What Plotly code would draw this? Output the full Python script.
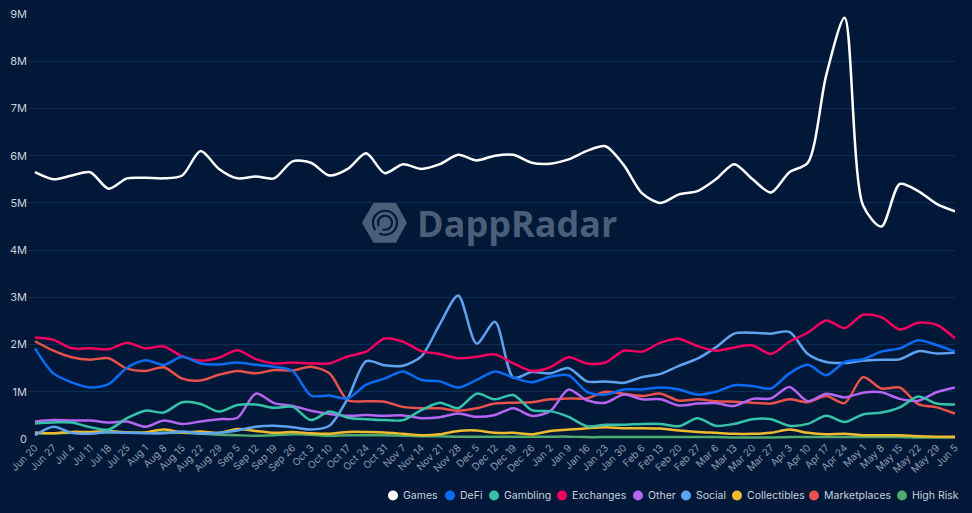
# DappRadar weekly unique wallets by category
import plotly.graph_objects as go

dates = ["Jun 20", "Jun 27", "Jul 4", "Jul 11", "Jul 18", "Jul 25", "Aug 1", "Aug 8", "Aug 15", "Aug 22", "Aug 29",
         "Sep 5", "Sep 12", "Sep 19", "Sep 26", "Oct 3", "Oct 10", "Oct 17", "Oct 24", "Oct 31", "Nov 7", "Nov 14",
         "Nov 21", "Nov 28", "Dec 5", "Dec 12", "Dec 19", "Dec 26", "Jan 2", "Jan 9", "Jan 16", "Jan 23", "Jan 30",
         "Feb 6", "Feb 13", "Feb 20", "Feb 27", "Mar 6", "Mar 13", "Mar 20", "Mar 27", "Apr 3", "Apr 10", "Apr 17",
         "Apr 24", "May 1", "May 8", "May 15", "May 22", "May 29", "Jun 5"]

# values in millions
games = [5.65, 5.5, 5.58, 5.65, 5.3, 5.52, 5.53, 5.52, 5.58, 6.1, 5.72, 5.52, 5.56, 5.52, 5.88, 5.85, 5.58, 5.72,
         6.05, 5.63, 5.82, 5.72, 5.82, 6.02, 5.9, 6.0, 6.02, 5.85, 5.83, 5.92, 6.1, 6.2, 5.8, 5.2, 5.0, 5.18, 5.25,
         5.5, 5.82, 5.5, 5.22, 5.65, 5.85, 7.7, 8.92, 4.95, 4.5, 5.4, 5.25, 4.98, 4.82]
defi = [1.92, 1.39, 1.2, 1.09, 1.16, 1.51, 1.67, 1.57, 1.74, 1.6, 1.58, 1.62, 1.57, 1.53, 1.44, 0.92, 0.92, 0.86,
        1.15, 1.28, 1.43, 1.25, 1.22, 1.09, 1.25, 1.43, 1.3, 1.2, 1.32, 1.35, 1.0, 0.94, 1.05, 1.05, 1.09, 1.05,
        0.94, 1.0, 1.14, 1.12, 1.07, 1.39, 1.57, 1.35, 1.63, 1.69, 1.85, 1.92, 2.09, 1.99, 1.85]
gambling = [0.33, 0.35, 0.35, 0.25, 0.2, 0.44, 0.6, 0.56, 0.78, 0.74, 0.58, 0.72, 0.73, 0.66, 0.68, 0.4, 0.58, 0.45,
            0.42, 0.4, 0.4, 0.61, 0.77, 0.65, 0.96, 0.84, 0.93, 0.61, 0.59, 0.47, 0.27, 0.3, 0.3, 0.32, 0.32, 0.27,
            0.44, 0.28, 0.32, 0.42, 0.42, 0.28, 0.32, 0.49, 0.36, 0.52, 0.56, 0.67, 0.9, 0.75, 0.73]
exchanges = [2.15, 2.1, 1.92, 1.92, 1.9, 2.04, 1.92, 1.96, 1.75, 1.66, 1.72, 1.88, 1.69, 1.6, 1.62, 1.6, 1.6, 1.75,
             1.85, 2.13, 2.06, 1.86, 1.8, 1.71, 1.74, 1.79, 1.6, 1.44, 1.52, 1.73, 1.6, 1.62, 1.87, 1.85, 2.04, 2.12,
             1.97, 1.87, 1.94, 1.98, 1.8, 2.06, 2.25, 2.51, 2.35, 2.63, 2.58, 2.32, 2.46, 2.42, 2.13]
other = [0.37, 0.4, 0.39, 0.39, 0.35, 0.37, 0.26, 0.39, 0.32, 0.37, 0.42, 0.45, 0.96, 0.76, 0.7, 0.6, 0.53, 0.49,
         0.51, 0.49, 0.5, 0.44, 0.46, 0.54, 0.47, 0.51, 0.65, 0.49, 0.59, 1.05, 0.82, 0.77, 0.94, 0.84, 0.84, 0.71,
         0.75, 0.76, 0.7, 0.85, 0.86, 1.1, 0.8, 0.96, 0.88, 0.98, 0.99, 0.85, 0.81, 0.99, 1.09]
social = [0.08, 0.26, 0.13, 0.11, 0.15, 0.13, 0.12, 0.12, 0.16, 0.12, 0.13, 0.18, 0.26, 0.28, 0.25, 0.2, 0.28, 0.86,
          1.65, 1.56, 1.55, 1.75, 2.43, 3.04, 2.02, 2.48, 1.3, 1.42, 1.39, 1.5, 1.22, 1.22, 1.19, 1.31, 1.38, 1.55,
          1.7, 1.94, 2.23, 2.25, 2.23, 2.27, 1.8, 1.63, 1.61, 1.66, 1.68, 1.69, 1.86, 1.81, 1.83]
collectibles = [0.14, 0.12, 0.15, 0.15, 0.17, 0.14, 0.14, 0.2, 0.14, 0.16, 0.13, 0.21, 0.17, 0.13, 0.15, 0.12, 0.11,
                0.15, 0.15, 0.14, 0.11, 0.08, 0.1, 0.17, 0.18, 0.13, 0.13, 0.1, 0.17, 0.2, 0.23, 0.25, 0.23, 0.23,
                0.22, 0.18, 0.15, 0.13, 0.11, 0.11, 0.13, 0.2, 0.13, 0.1, 0.11, 0.08, 0.08, 0.08, 0.06, 0.05, 0.05]
marketplaces = [2.07, 1.87, 1.73, 1.68, 1.71, 1.49, 1.44, 1.52, 1.28, 1.24, 1.36, 1.44, 1.39, 1.46, 1.45, 1.53, 1.39,
                0.82, 0.8, 0.79, 0.68, 0.65, 0.65, 0.6, 0.65, 0.75, 0.77, 0.78, 0.84, 0.86, 0.86, 1.0, 0.96, 0.91,
                0.96, 0.81, 0.84, 0.8, 0.79, 0.77, 0.75, 0.84, 0.78, 0.91, 0.76, 1.31, 1.07, 1.09, 0.74, 0.67, 0.54]
high_risk = [0.12, 0.12, 0.13, 0.13, 0.14, 0.14, 0.13, 0.14, 0.13, 0.11, 0.09, 0.08, 0.07, 0.08, 0.1, 0.09, 0.07,
             0.08, 0.08, 0.08, 0.07, 0.06, 0.06, 0.05, 0.05, 0.05, 0.05, 0.05, 0.05, 0.05, 0.04, 0.04, 0.04, 0.04,
             0.04, 0.04, 0.04, 0.04, 0.03, 0.03, 0.03, 0.04, 0.04, 0.04, 0.04, 0.04, 0.04, 0.04, 0.03, 0.03, 0.03]

names = ["Games", "DeFi", "Gambling", "Exchanges", "Other", "Social", "Collectibles", "Marketplaces", "High Risk"]
series = [games, defi, gambling, exchanges, other, social, collectibles, marketplaces, high_risk]
colors = ["#ffffff", "#0a6cf5", "#35c2a8", "#f5015f", "#b565f0", "#5fa3f0", "#efbb2e", "#e8524a", "#4faa6e"]
# pixel x of each legend dot, plotly's own legend can't get the dot this close to its label
legend_dots = [393, 450, 494, 562, 638, 686, 737, 814, 902]

y_ticks = [0, 1, 2, 3, 4, 5, 6, 7, 8, 9]
y_labels = ["0", "1M", "2M", "3M", "4M", "5M", "6M", "7M", "8M", "9M"]

BG = "#011838"
WM = "#4a5e7a"
W, H = 972, 513
ML, MR, MT, MB = 28, 17, 14, 73.5


def px(x):
    return (x - ML) / (W - ML - MR)


def py(y):
    return (H - MB - y) / (H - MT - MB)


fig = go.Figure()
# first series sits on top, so draw them backwards
for name, vals, col in reversed(list(zip(names, series, colors))):
    fig.add_trace(go.Scatter(x=dates, y=[v * 1e6 for v in vals], mode="lines", name=name, showlegend=False,
                             line=dict(color=col, width=2.5, shape="spline", smoothing=0.8)))

# watermark logo
hexagon = [(362, 223), (373.5, 203), (396, 203), (407, 223), (396, 243), (373.5, 243)]
hex_path = "M " + " L ".join(f"{px(a):.4f},{py(b):.4f}" for a, b in hexagon) + " Z"
shapes = [dict(type="path", path=hex_path, xref="paper", yref="paper", fillcolor=WM, line=dict(width=0), layer="below")]
for r in [12, 7]:
    shapes.append(dict(type="circle", xref="paper", yref="paper", x0=px(385 - r), x1=px(385 + r), y0=py(223 + r),
                       y1=py(223 - r), line=dict(color=BG, width=2.2), layer="below"))
shapes.append(dict(type="line", xref="paper", yref="paper", x0=px(385), y0=py(223), x1=px(374), y1=py(236),
                   line=dict(color=WM, width=5), layer="below"))

annotations = [dict(text="<b>DappRadar</b>", xref="paper", yref="paper", x=px(415), y=py(224), xanchor="left",
                    yanchor="middle", showarrow=False, font=dict(family="Open Sans", size=36, color=WM))]

# legend row
for name, col, dot in zip(names, colors, legend_dots):
    shapes.append(dict(type="circle", xref="paper", yref="paper", x0=px(dot - 5), x1=px(dot + 5), y0=py(501),
                       y1=py(491), fillcolor=col, line=dict(width=0)))
    annotations.append(dict(text=name, xref="paper", yref="paper", x=px(dot + 10), y=py(496), xanchor="left",
                            yanchor="middle", showarrow=False, xshift=-2,
                            font=dict(size=10.5, color="#c8d0dc")))

fig.update_layout(
    width=W, height=H, autosize=False,
    paper_bgcolor=BG, plot_bgcolor=BG,
    margin=dict(l=ML, r=MR, t=MT, b=MB),
    font=dict(family="Inter, Roboto, sans-serif", color="#c4ccd8"),
    shapes=shapes,
    annotations=annotations,
    showlegend=False,
)
fig.update_xaxes(type="category", range=[-0.38, 50], tickmode="array", tickvals=dates, ticktext=dates, tickangle=-45,
                 tickfont=dict(size=10, color="#8f9cb0"), showgrid=False, zeroline=False, ticks="", showline=False,
                 automargin=False)
fig.update_yaxes(range=[0, 9e6], tickmode="array", tickvals=[v * 1e6 for v in y_ticks], ticktext=y_labels,
                 tickfont=dict(size=11, color="#c8d0dc"), gridcolor="#0e2d55", gridwidth=1, zeroline=False,
                 ticks="", showline=False, automargin=False)

# page has a default body margin, drop it so the chart fills the window
fig.write_html("out.html", config=dict(displayModeBar=False),
               post_script="document.body.style.margin='0';document.body.style.background='#011838';")
